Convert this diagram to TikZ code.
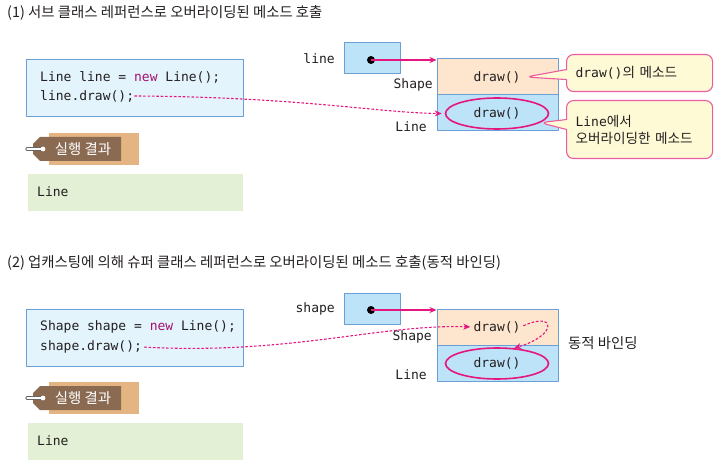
\documentclass[tikz,border=0pt]{standalone}
\usepackage{fontspec}
\setmainfont{Noto Sans CJK KR}
\setmonofont{DejaVu Sans Mono}
\usetikzlibrary{shapes.geometric,shapes.callouts,arrows.meta}
\definecolor{mag}{HTML}{E5177E}
\definecolor{codebg}{HTML}{E3F4FD}
\definecolor{codebd}{HTML}{6C9FD6}
\definecolor{refbg}{HTML}{BDE3F8}
\definecolor{shapebg}{HTML}{FDE6CD}
\definecolor{notebg}{HTML}{FFFAD6}
\definecolor{notebd}{HTML}{EC5CA0}
\definecolor{tagbg}{HTML}{E4B583}
\definecolor{tagfg}{HTML}{8B6A52}
\definecolor{outbg}{HTML}{E3F0D6}
\definecolor{newc}{HTML}{A2136E}
\definecolor{txt}{HTML}{231F20}
\begin{document}
\begin{tikzpicture}[x=1pt, y=-1pt, line join=round, >={Stealth[length=7pt,width=6pt]},
	font=\fontsize{14.4}{17}\selectfont, text=txt,
	title/.style={anchor=west, inner sep=0},
	mono/.style={font=\ttfamily\fontsize{13}{15}\selectfont, inner sep=0},
	codebox/.style={draw=codebd, line width=1pt, fill=codebg, anchor=north west, minimum width=217, minimum height=57, inner sep=0},
	refbox/.style={draw=codebd, line width=1pt, fill=refbg, minimum width=56, minimum height=31, inner sep=0},
	objbox/.style={draw=codebd, line width=1pt, minimum width=121, minimum height=36, inner sep=0},
	oval/.style={ellipse, draw=mag, line width=1.6pt, minimum width=103, minimum height=31, inner sep=0},
	dot/.style={circle, fill=black, minimum size=8, inner sep=0},
	note/.style={rectangle callout, rounded corners=7, draw=notebd, line width=1.1pt, fill=notebg, anchor=north west,
		font=\fontsize{13.6}{16}\selectfont, minimum width=146, text width=128, inner xsep=9, inner ysep=0, align=left,
		callout pointer width=10},
	outbox/.style={fill=outbg, anchor=north west, minimum width=215, minimum height=37, inner sep=0},
	pin/.style={->, mag, line width=1.3pt},
	calls/.style={->, mag, line width=1.1pt, dash pattern=on 2.6pt off 1.8pt}]
	\useasboundingbox (0,0) rectangle (725,470);
	% 제목
	\node[title] (title1) at (7,13) {(1) 서브 클래스 레퍼런스로 오버라이딩된 메소드 호출};
	\node[title] (title2) at (7,263) {(2) 업캐스팅에 의해 슈퍼 클래스 레퍼런스로 오버라이딩된 메소드 호출(동적 바인딩)};
	% 코드
	\node[codebox] (code1) at (26,59) {};
	\node[mono, anchor=west] (c1a) at (40,77) {Line line = \textcolor{newc}{new} Line();};
	\node[mono, anchor=west] (c1b) at (40,96) {line.draw();};
	\node[codebox] (code2) at (26,309) {};
	\node[mono, anchor=west] (c2a) at (40,327) {Shape shape = \textcolor{newc}{new} Line();};
	\node[mono, anchor=west] (c2b) at (40,347) {shape.draw();};
	% 실행 결과
	\foreach \dy/\n in {0/1,249/2}{
		\fill[tagbg] (49,133+\dy) rectangle (139,165+\dy);
		\fill[tagfg] (40,137+\dy) -- (121,137+\dy) -- (121,161+\dy) -- (40,161+\dy) -- (33,154+\dy) -- (33,144+\dy) -- cycle;
		\draw[black!60, line width=3.2pt, line cap=round] (27,149+\dy) -- (43,149+\dy);
		\draw[white, line width=1.2pt, line cap=round] (27,149+\dy) -- (43,149+\dy);
		\fill[white] (43,149+\dy) circle (2.4);
		\node[text=white, inner sep=0] (tag\n) at (83,149+\dy) {실행 결과};
		\node[outbox] (out\n) at (28,174+\dy) {};
		\node[mono, anchor=west] (res\n) at (37,192+\dy) {Line};
	}
	% (1) 객체
	\node[refbox] (ref1) at (372,58.5) {};
	\node[mono, anchor=east] (rl1) at (335,59) {line};
	\node[dot] (dot1) at (371,60) {};
	\node[objbox, fill=shapebg] (sb1) at (497.5,77) {};
	\node[objbox, fill=refbg] (lb1) at (497.5,113) {};
	\node[mono] (sd1) at (497,77) {draw()};
	\node[oval, mono] (ell1) at (497,113.5) {draw()};
	\node[mono, anchor=east] (sl1) at (433,85) {Shape};
	\node[mono, anchor=east] (ll1) at (427,127) {Line};
	\node[note, minimum height=37, callout absolute pointer={([xshift=5]sd1.east)}] (call1) at (566,54) {{\ttfamily\fontsize{13}{15}\selectfont draw()}의 메소드};
	\node[note, minimum height=58, callout absolute pointer={(ell1.-12)}] (call2) at (566,100) {{\ttfamily\fontsize{13}{15}\selectfont Line}에서\\[1pt]오버라이딩한 메소드};
	\draw[pin] (dot1.center) -- (dot1.center -| sb1.west);
	\draw[calls, shorten >=3pt] (c1b.east) .. controls (300,97) and (380,113) .. (ell1.west);
	% (2) 객체
	\node[refbox] (ref2) at (372,308.5) {};
	\node[mono, anchor=east] (rl2) at (335,309) {shape};
	\node[dot] (dot2) at (371,310) {};
	\node[objbox, fill=shapebg] (sb2) at (497.5,327) {};
	\node[objbox, fill=refbg] (lb2) at (497.5,363) {};
	\node[mono] (sd2) at (497,327) {draw()};
	\node[oval, mono] (ell2) at (497,363.5) {draw()};
	\node[mono, anchor=east] (sl2) at (432,337) {Shape};
	\node[mono, anchor=east] (ll2) at (427,375) {Line};
	\node[anchor=west, inner sep=0] (bind) at (568,343) {동적 바인딩};
	\draw[pin] (dot2.center) -- (dot2.center -| sb2.west);
	\draw[calls, shorten <=2pt, shorten >=3pt] (c2b.east) .. controls (290,355) and (380,324) .. (sd2.west);
	\draw[calls, shorten <=3pt] (sd2.east) .. controls (556,311) and (558,335) .. (ell2.42);
\end{tikzpicture}
\end{document}
